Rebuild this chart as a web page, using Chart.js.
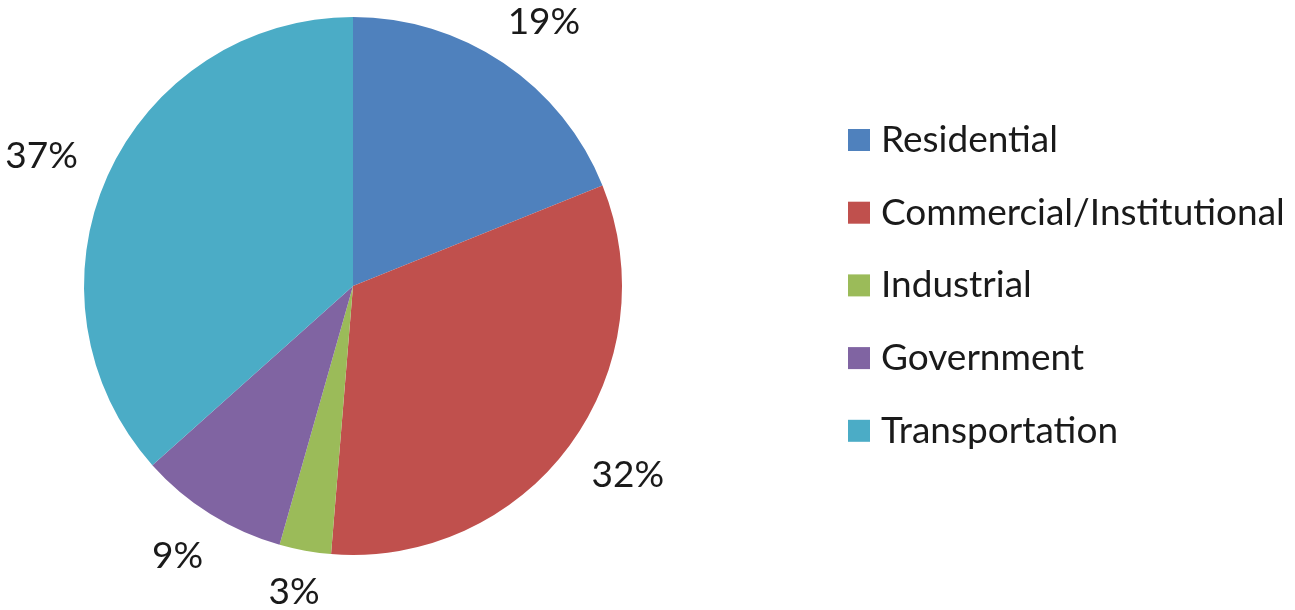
<!DOCTYPE html>
<html>
<head>
<meta charset="utf-8">
<script src="https://cdn.jsdelivr.net/npm/chart.js@4/dist/chart.umd.min.js"></script>
<style>
html,body{margin:0;padding:0;background:#fff;}
#wrap{width:1295px;height:610px;position:relative;}
</style>
</head>
<body>
<div id="wrap"><canvas id="c" width="1295" height="610"></canvas></div>
<script>
const categories = ["Residential", "Commercial/Institutional", "Industrial", "Government", "Transportation"];
const shares = [18.9, 32.4, 3.1, 9.0, 36.6];
const sliceColors = ["#4F81BD", "#C0504D", "#9BBB59", "#8064A2", "#4BACC6"];

const FONT = "Lato, 'Open Sans', sans-serif";
const FS = 37;

const labelPlugin = {
  id: 'outsideLabels',
  afterDatasetsDraw(chart) {
    const ctx = chart.ctx;
    const meta = chart.getDatasetMeta(0);
    const total = shares.reduce((a, b) => a + b, 0);
    ctx.save();
    ctx.font = FS + "px " + FONT;
    ctx.fillStyle = "#1a1a1a";
    ctx.textAlign = "center";
    ctx.textBaseline = "middle";
    meta.data.forEach((arc, i) => {
      const p = arc.getProps(['x', 'y', 'startAngle', 'endAngle', 'outerRadius'], true);
      const mid = (p.startAngle + p.endAngle) / 2;
      const dx = Math.cos(mid), dy = Math.sin(mid);
      const txt = Math.round(shares[i] / total * 100) + "%";
      const w = ctx.measureText(txt).width;
      const h = 28;
      const r = p.outerRadius + 36;
      let cx = p.x + dx * r + dx * w / 2;
      let cy = p.y + dy * r + dy * h / 2;
      cy = Math.min(cy, chart.height - h / 2 - 4);
      ctx.fillText(txt, cx, cy);
    });
    ctx.restore();
  }
};

const legendPlugin = {
  id: 'customLegend',
  afterDraw(chart) {
    const ctx = chart.ctx;
    const x0 = 848, y0 = 140, step = 72.7, box = 22;
    ctx.save();
    ctx.font = FS + "px " + FONT;
    ctx.textBaseline = "middle";
    ctx.textAlign = "left";
    chart.data.labels.forEach((lab, i) => {
      const y = y0 + i * step;
      ctx.fillStyle = chart.data.datasets[0].backgroundColor[i];
      ctx.fillRect(x0, y - box / 2, box, box);
      ctx.fillStyle = "#1a1a1a";
      ctx.fillText(lab, x0 + 33, y);
    });
    ctx.restore();
  }
};

new Chart(document.getElementById('c'), {
  type: 'pie',
  data: {
    labels: categories,
    datasets: [{
      data: shares,
      backgroundColor: sliceColors,
      borderWidth: 0
    }]
  },
  options: {
    responsive: false,
    animation: false,
    layout: { padding: { left: 84, top: 17, right: 673, bottom: 55 } },
    plugins: { legend: { display: false }, tooltip: { enabled: false } }
  },
  plugins: [labelPlugin, legendPlugin]
});
</script>
</body>
</html>
